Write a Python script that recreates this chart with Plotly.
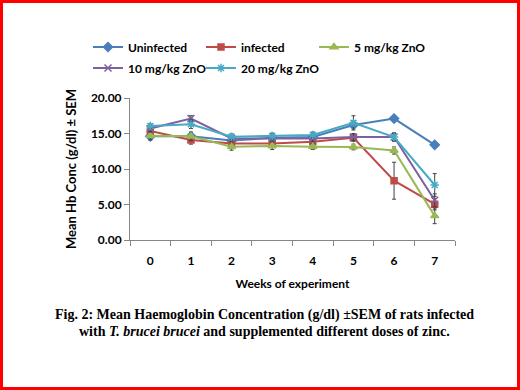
import plotly.graph_objects as go

weeks = ["0", "1", "2", "3", "4", "5", "6", "7"]
series_names = ["Uninfected", "infected", "5 mg/kg ZnO", "10 mg/kg ZnO", "20 mg/kg ZnO"]
uninfected = [14.6, 14.6, 14.0, 14.4, 14.5, 16.2, 17.1, 13.4]
infected = [15.35, 14.1, 13.6, 13.6, 13.85, 14.4, 8.35, 5.05]
zno5 = [14.7, 14.6, 13.15, 13.25, 13.15, 13.1, 12.6, 3.4]
zno10 = [15.7, 17.1, 14.3, 14.3, 14.3, 14.5, 14.5, 5.6]
zno20 = [16.05, 16.3, 14.55, 14.65, 14.8, 16.5, 14.5, 7.75]
err_uninfected = [0.5, 0.4, 0.4, 0.4, 0.4, 0.4, 0.3, 0.3]
err_infected = [0.6, 0.6, 0.5, 0.5, 0.5, 0.5, 2.6, 0.8]
err_zno5 = [0.6, 0.6, 0.5, 0.5, 0.4, 0.4, 0.5, 1.1]
err_zno10 = [0.5, 0.4, 0.4, 0.4, 0.4, 0.5, 0.5, 0.9]
err_zno20 = [0.3, 0.6, 0.4, 0.4, 0.4, 1.0, 0.6, 1.6]
y_ticks = [0, 5, 10, 15, 20]
caption_line1 = "Fig. 2: Mean Haemoglobin Concentration (g/dl) \u00b1SEM of rats infected"
caption_line2 = "with <i>T. brucei brucei</i> and supplemented different doses of zinc."

values = [uninfected, infected, zno5, zno10, zno20]
errors = [err_uninfected, err_infected, err_zno5, err_zno10, err_zno20]
colors = ["#4A7EBB", "#BE4B48", "#98B954", "#7D60A0", "#46AAC5"]
symbols = ["diamond", "square", "triangle-up", "x-thin-open", "asterisk-open"]
msizes = [7, 6, 7, 7, 7]
legends = ["legend", "legend", "legend", "legend2", "legend2"]

W, H = 520, 390
ML, MR, MT, MB = 130, 65, 98, 150
PW, PH = W - ML - MR, H - MT - MB

def px(x):
    return (x - ML) / PW

def py(y):
    return (H - MB - y) / PH

fig = go.Figure()
for name, v, e, c, s, ms, lg in zip(series_names, values, errors, colors, symbols, msizes, legends):
    fig.add_trace(go.Scatter(
        x=weeks, y=v, name=name, mode="lines+markers",
        line=dict(color=c, width=2),
        marker=dict(symbol=s, size=ms, color=c, line=dict(color=c, width=1.5)),
        error_y=dict(type="data", array=e, visible=True, color="#404040", thickness=1, width=2),
        legend=lg,
    ))
# invisible spacer entry so the second legend row is not clipped
fig.add_trace(go.Scatter(x=[None], y=[None], name="\u00a0", mode="lines",
                         line=dict(color="rgba(0,0,0,0)", width=0), hoverinfo="skip",
                         legend="legend2"))

font_main = "Lato"
leg_common = dict(orientation="h", xanchor="left", yanchor="middle",
                  entrywidth=68, entrywidthmode="pixels", itemwidth=30,
                  font=dict(family=font_main, size=12, weight="bold"),
                  bgcolor="rgba(0,0,0,0)", tracegroupgap=0)
fig.update_layout(
    width=W, height=H,
    margin=dict(l=ML, r=MR, t=MT, b=MB),
    paper_bgcolor="white", plot_bgcolor="white",
    font=dict(family=font_main, size=12, color="#000000"),
    legend=dict(x=px(88), y=py(47), **leg_common),
    legend2=dict(x=px(88), y=py(68), **leg_common),
    xaxis=dict(type="category", range=[-0.5, 7.5], tickson="boundaries", ticks="outside",
               ticklen=5, tickcolor="#868686", showline=True, linecolor="#868686", linewidth=1,
               showgrid=False, zeroline=False, ticklabelstandoff=10,
               tickfont=dict(family=font_main, size=12, weight="bold"),
               title=dict(text="Weeks of experiment", font=dict(family=font_main, size=12, weight="bold"), standoff=12)),
    yaxis=dict(range=[0, 20], tickvals=y_ticks, tickformat=".2f", ticks="outside",
               ticklen=5, tickcolor="#868686", showline=True, linecolor="#868686", linewidth=1,
               showgrid=False, zeroline=False,
               tickfont=dict(family=font_main, size=12, weight="bold"),
               title=dict(text="Mean Hb Conc (g/dl) \u00b1 SEM", font=dict(family=font_main, size=13, weight="bold"), standoff=11)),
    showlegend=True,
)

for txt, yc in [(caption_line1, 315), (caption_line2, 331)]:
    fig.add_annotation(
        xref="paper", yref="paper", x=px(264), y=py(yc), xanchor="center", yanchor="middle",
        showarrow=False, align="center", text="<b>" + txt + "</b>",
        font=dict(family="Liberation Serif", size=14, color="#000000"),
    )

fig.add_shape(type="rect", xref="paper", yref="paper",
              x0=px(1.5), x1=px(W - 1.5), y0=py(1.5), y1=py(H - 1.5),
              line=dict(color="#FF0000", width=3), layer="above")

fig.write_html("out.html", config={"displayModeBar": False},
               post_script="document.body.style.margin='0';document.body.style.overflow='hidden';")
